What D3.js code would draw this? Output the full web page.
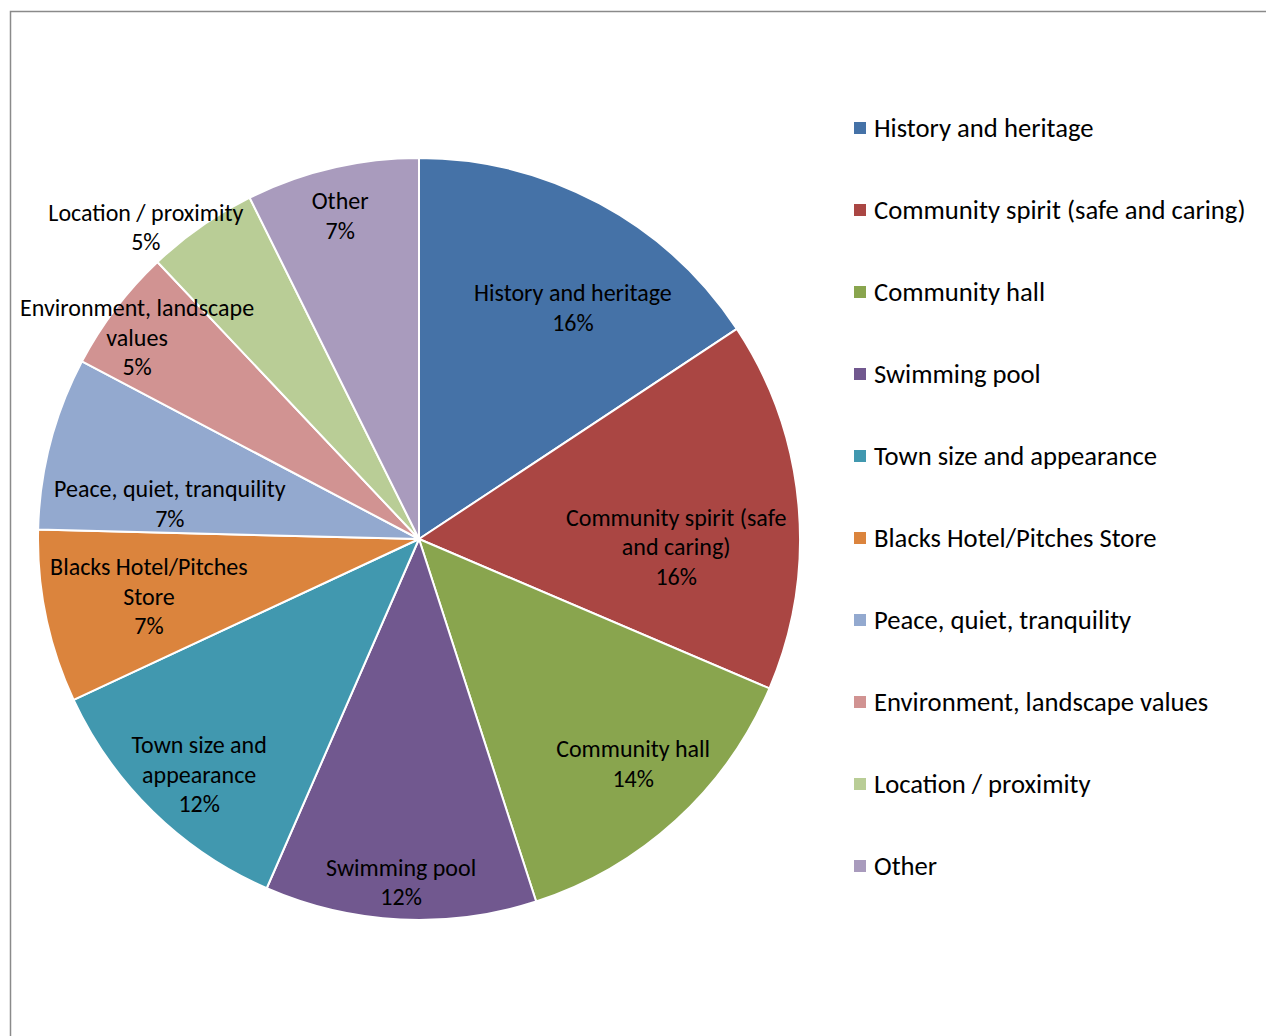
<!DOCTYPE html>
<html>
<head>
<meta charset="utf-8">
<script src="https://cdn.jsdelivr.net/npm/d3@7"></script>
<style>
  html, body { margin: 0; padding: 0; background: #fff; }
  svg { display: block; }
  text { font-family: Carlito, Calibri, Lato, sans-serif; fill: #000; }
</style>
</head>
<body>
<svg id="chart" width="1266" height="1036"></svg>
<script>
// Reasons people value the town (number of responses per theme)
const categories = [
  "History and heritage",
  "Community spirit (safe and caring)",
  "Community hall",
  "Swimming pool",
  "Town size and appearance",
  "Blacks Hotel/Pitches Store",
  "Peace, quiet, tranquility",
  "Environment, landscape values",
  "Location / proximity",
  "Other"
];
const responses = [30, 30, 26, 22, 22, 14, 14, 10, 9, 14];

// Data-label wording inside / beside each slice (category text broken into lines)
const labelLines = [
  ["History and heritage"],
  ["Community spirit (safe", "and caring)"],
  ["Community hall"],
  ["Swimming pool"],
  ["Town size and", "appearance"],
  ["Blacks Hotel/Pitches", "Store"],
  ["Peace, quiet, tranquility"],
  ["Environment, landscape", "values"],
  ["Location / proximity"],
  ["Other"]
];

const colors = ["#4572A7", "#AA4643", "#89A54E", "#71588F", "#4198AF",
                "#DB843D", "#93A9CF", "#D19392", "#B9CD96", "#A99BBD"];

// Label anchor for each slice, as offsets from the pie centre in units of the radius
const labelAnchor = [
  [0.404, -0.608], [0.675, 0.020], [0.562, 0.589], [-0.047, 0.900], [-0.577, 0.618],
  [-0.709, 0.151], [-0.654, -0.093], [-0.740, -0.529], [-0.717, -0.819], [-0.207, -0.849]
];

const svg = d3.select("#chart");
const W = 1266, H = 1036;

// chart-area frame
svg.append("path")
  .attr("d", `M10.5,${H} V11.5 H${W}`)
  .attr("fill", "none")
  .attr("stroke", "#8a8a8a")
  .attr("stroke-width", 1.5);

const cx = 419, cy = 539, R = 381;
const total = d3.sum(responses);
const data = categories.map((c, i) => ({ name: c, value: responses[i], i }));

const pie = d3.pie().value(d => d.value).sort(null);
const arc = d3.arc().innerRadius(0).outerRadius(R);
const color = d3.scaleOrdinal().domain(categories).range(colors);

const g = svg.append("g").attr("transform", `translate(${cx},${cy})`);
const arcs = pie(data);

g.selectAll("path.slice")
  .data(arcs)
  .join("path")
  .attr("class", "slice")
  .attr("d", arc)
  .attr("fill", d => color(d.data.name))
  .attr("stroke", "#fff")
  .attr("stroke-width", 2)
  .attr("stroke-linejoin", "round");

// data labels: category name + rounded percentage
const fmtPct = v => Math.round(v / total * 100) + "%";
const lineH = 29.5;
const labels = g.selectAll("text.lbl")
  .data(arcs)
  .join("text")
  .attr("class", "lbl")
  .attr("text-anchor", "middle")
  .style("font-size", "24px");

labels.each(function (d) {
  const i = d.data.i;
  const lines = labelLines[i].concat([fmtPct(d.data.value)]);
  const x = labelAnchor[i][0] * R;
  const y = labelAnchor[i][1] * R;
  const top = y - (lines.length - 1) * lineH / 2;
  const t = d3.select(this);
  lines.forEach((ln, k) => {
    t.append("tspan")
      .attr("x", x)
      .attr("y", top + k * lineH)
      .attr("dy", "0.35em")
      .text(ln);
  });
});

// legend
const legend = svg.append("g").attr("transform", "translate(854,128)");
const rowH = 82;
const item = legend.selectAll("g.item")
  .data(categories)
  .join("g")
  .attr("class", "item")
  .attr("transform", (d, i) => `translate(0,${i * rowH})`);
item.append("rect")
  .attr("x", 0).attr("y", -6)
  .attr("width", 12).attr("height", 12)
  .attr("fill", d => color(d));
item.append("text")
  .attr("x", 20).attr("y", 0).attr("dy", "0.35em")
  .style("font-size", "26.67px")
  .text(d => d);
</script>
</body>
</html>
